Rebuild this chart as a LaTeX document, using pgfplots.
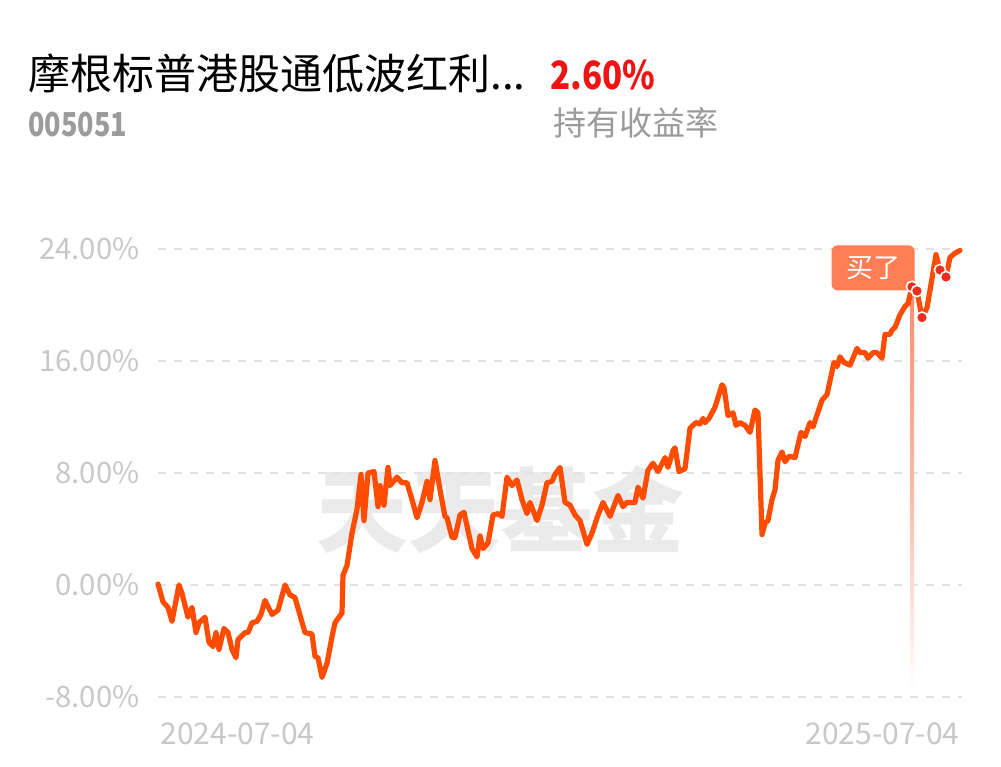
\documentclass[border=0pt]{standalone}
\usepackage{pgfplots}
\pgfplotsset{compat=1.18}
\usepackage{fontspec}
\setmainfont{Noto Sans CJK SC}
\definecolor{lineor}{RGB}{255,76,0}
\definecolor{boxc}{RGB}{255,125,85}
\definecolor{dotc}{RGB}{235,45,30}
\definecolor{tickc}{RGB}{200,200,200}
\definecolor{gridc}{RGB}{226,226,226}
\definecolor{wmark}{RGB}{234,234,234}
\definecolor{vlinec}{RGB}{255,140,110}
\definecolor{redtxt}{RGB}{238,20,20}
\definecolor{graytxt}{RGB}{155,155,155}
\begin{document}
\begin{tikzpicture}
\fill[white] (0,0) rectangle (500.5pt,383pt);
\path[use as bounding box] (0,0) rectangle (500.5pt,383pt);
% watermark
\node[text=wmark, font=\bfseries\fontsize{46}{46}\selectfont, inner sep=0] at (250pt,128pt) {天天基金};
% header
\node[anchor=base west, inner sep=0, font=\fontsize{21}{21}\selectfont] at (14pt,338pt) {摩根标普港股通低波红利...};
\node[anchor=base west, inner sep=0, text=redtxt, font=\bfseries\fontsize{19.5}{19.5}\selectfont] at (275pt,338pt) {\scalebox{0.85}[1]{2.60\%}};
\node[anchor=base west, inner sep=0, text=graytxt, font=\bfseries\fontsize{16.5}{16.5}\selectfont] at (14pt,314.5pt) {\scalebox{0.82}[1]{005051}};
\node[anchor=base west, inner sep=0, text=graytxt, font=\fontsize{16.5}{16.5}\selectfont] at (276.5pt,315pt) {持有收益率};
\begin{axis}[
  at={(79pt,34.5pt)}, anchor=south west,
  scale only axis, width=402pt, height=224pt,
  xmin=0, xmax=804, ymin=-8, ymax=24,
  clip=false,
  axis line style={draw=none},
  major tick length=0pt,
  xtick=\empty,
  ytick={-8,0,8,16,24},
  yticklabel={\pgfmathprintnumber[fixed,fixed zerofill,precision=2]{\tick}\%},
  /pgf/number format/assume math mode=true,
  yticklabel style={font=\fontsize{14.7}{14.7}\selectfont, text=tickc, anchor=east, inner sep=0pt, xshift=-9pt},
  ymajorgrids,
  grid style={gridc, line width=0.9pt, dash pattern=on 4pt off 4pt},
]
% buy marker vertical line (fading)
\addplot[draw=none, top color=vlinec, bottom color=white, middle color=vlinec!60!white] coordinates {(752,-7.6) (756,-7.6) (756,21.3) (752,21.3) (752,-7.6)};
\node[fill=boxc, rounded corners=3pt, minimum width=41.5pt, minimum height=22.5pt, inner sep=0, anchor=north east, text=white, font=\fontsize{13.5}{13.5}\selectfont] at (axis cs:757,24.29) {买了};
% NAV return line
\addplot[color=lineor, line width=2.6pt, line join=round, line cap=round] coordinates {
(0,0.07) (5,-1.2) (10,-1.6) (14,-2.6) (21,0.0) (24,-0.6) (30,-2.3) (34,-1.6) (38,-3.4) (41,-2.7)
(47,-2.3) (51,-4.1) (55,-4.4) (58,-3.4) (61,-4.6) (66,-3.1) (70,-3.4) (74,-4.6) (78,-5.2) (80,-3.9)
(87,-3.4) (90,-3.4) (94,-2.7) (99,-2.6) (103,-2.1) (107,-1.1) (114,-2.1) (120,-1.8) (127,0.0) (132,-0.7)
(137,-0.9) (147,-3.4) (154,-3.5) (157,-5.1) (160,-5.2) (164,-6.6) (169,-5.6) (174,-3.7) (177,-2.7) (184,-2.0)
(185,0.7) (189,1.4) (194,3.7) (199,5.4) (203,7.9) (206,4.6) (210,8.0) (216,8.1) (220,5.6) (222,7.1)
(226,5.7) (230,8.4) (232,7.1) (239,7.7) (244,7.3) (249,7.3) (254,6.1) (259,4.8) (264,5.9) (269,7.4)
(272,6.1) (277,8.9) (282,6.8) (287,4.9) (289,4.8) (294,3.4) (297,3.4) (302,5.0) (306,5.2) (314,2.6)
(319,2.0) (322,3.5) (325,2.6) (330,3.0) (335,5.0) (340,5.1) (344,4.9) (349,7.7) (354,7.1) (359,7.5)
(364,6.1) (369,5.1) (372,5.9) (379,4.6) (384,5.7) (389,7.3) (394,7.4) (397,7.9) (402,8.4) (407,5.9)
(412,5.7) (417,5.0) (422,4.6) (429,2.9) (434,3.7) (439,4.8) (445,5.9) (452,4.9) (460,6.4) (465,5.6)
(469,5.9) (477,5.9) (480,7.0) (485,6.2) (490,8.2) (495,8.7) (500,8.1) (507,9.1) (510,8.4) (515,9.6)
(517,9.8) (521,8.1) (527,8.3) (532,11.2) (538,11.6) (542,11.5) (545,11.9) (547,11.6) (551,11.9) (557,12.7)
(564,14.3) (566,14.1) (570,12.1) (575,12.3) (578,11.4) (582,11.6) (587,11.4) (592,10.9) (597,12.5) (600,12.3)
(604,3.6) (607,4.4) (610,4.6) (614,6.1) (617,6.8) (620,8.9) (624,9.5) (627,8.8) (631,9.2) (637,9.1)
(643,10.9) (647,10.6) (652,11.6) (655,11.3) (664,13.2) (669,13.6) (676,15.9) (679,15.6) (682,16.3) (686,15.9)
(692,15.7) (699,16.9) (702,16.6) (707,16.6) (710,16.2) (715,16.6) (719,16.6) (724,16.2) (727,17.9) (732,17.9)
(734,18.2) (737,18.4) (742,19.3) (747,19.9) (750,20.1) (754,21.3) (759,21.0) (764,19.1) (769,19.8) (774,21.9)
(778,23.6) (782,22.5) (788,22.0) (792,23.4) (797,23.7) (802,23.9)
};
% transaction dots
\addplot[only marks, mark=*, mark size=2.8pt, mark options={fill=dotc, draw=white, line width=0.8pt}] coordinates {
(754,21.3) (759,21.0) (764,19.1) (782,22.5) (788,22.0)
};
% date labels
\node[anchor=base west, inner sep=0, text=tickc, font=\fontsize{15}{15}\selectfont] at (axis cs:2,-11.4) {2024-07-04};
\node[anchor=base east, inner sep=0, text=tickc, font=\fontsize{15}{15}\selectfont] at (axis cs:802,-11.4) {2025-07-04};
\end{axis}
\end{tikzpicture}
\end{document}
